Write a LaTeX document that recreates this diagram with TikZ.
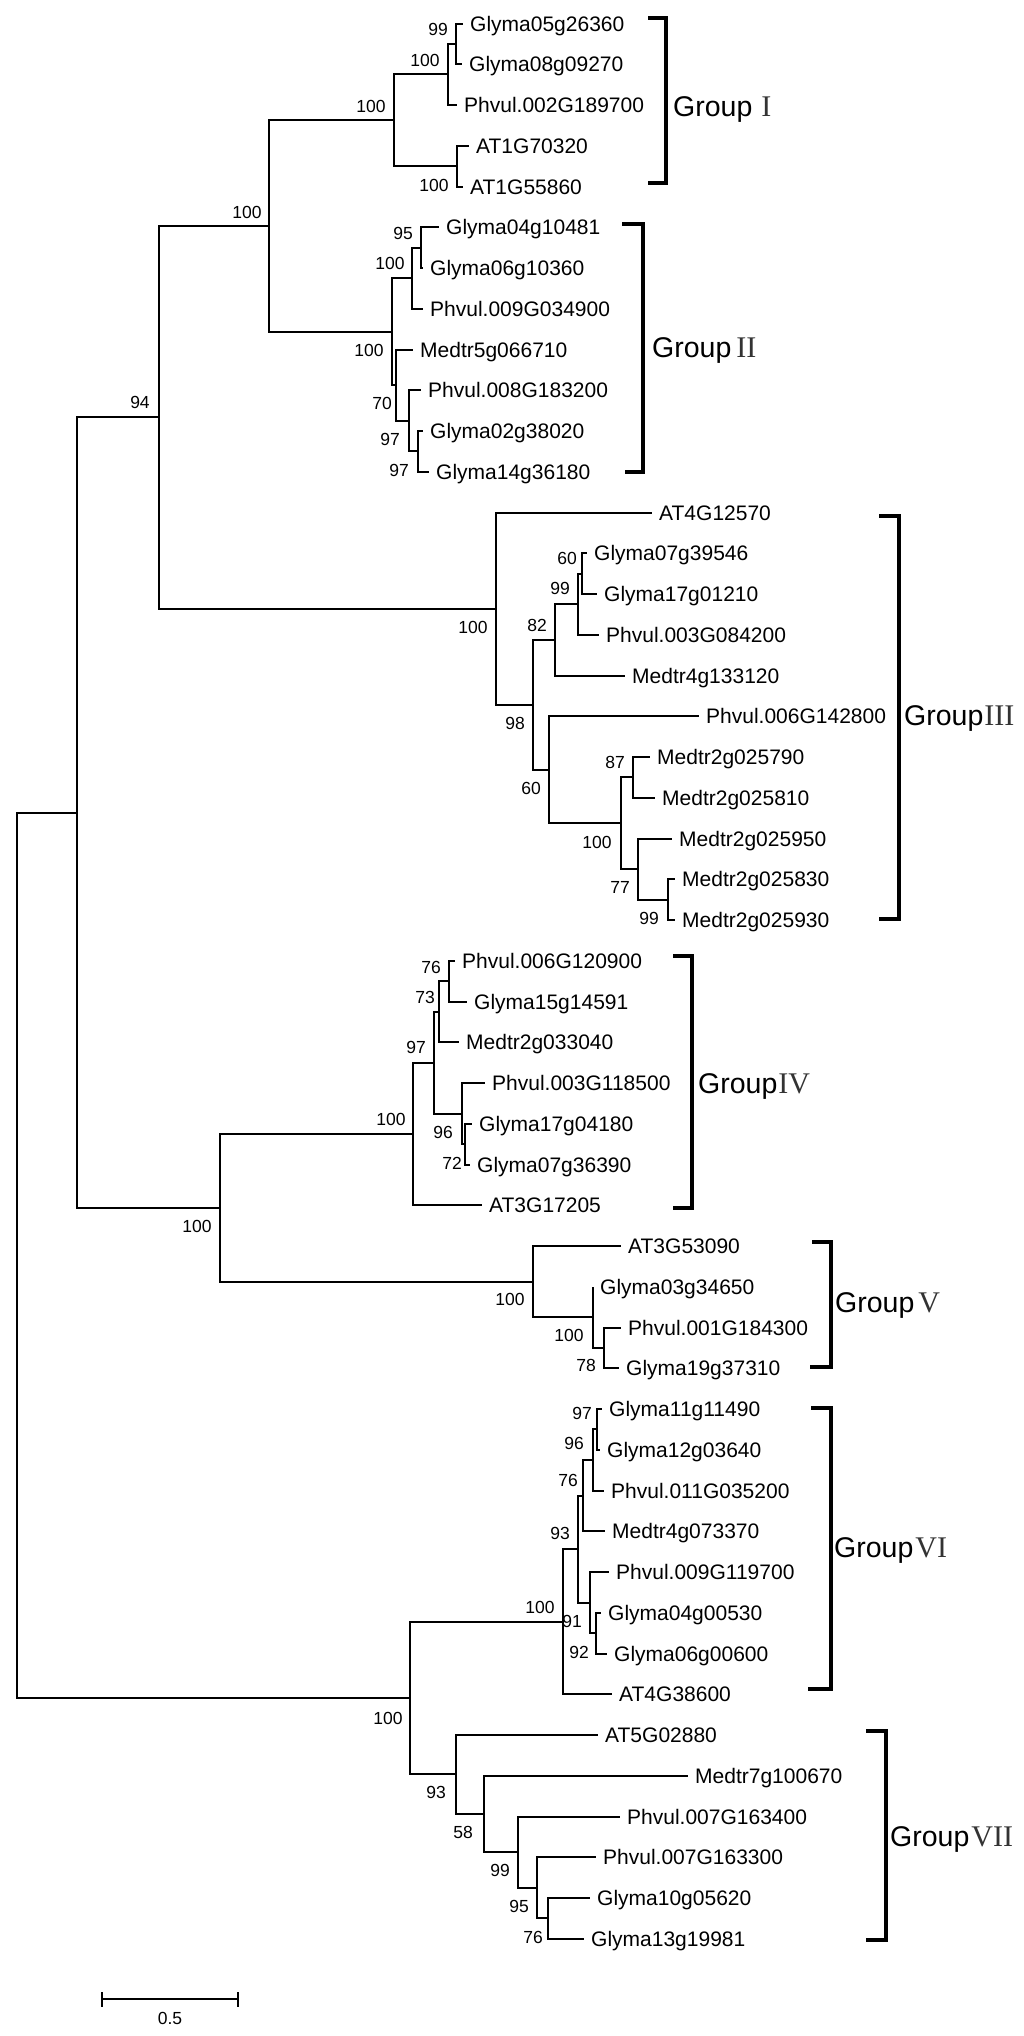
\documentclass[tikz,border=0pt]{standalone}
\usepackage{fontspec}
\setmainfont{Liberation Sans}
\newfontfamily\numfont{Liberation Serif}
\newcommand{\Y}[1]{round(23.5+40.75*(#1))}
\newcommand{\leaf}[4]{\coordinate (#1) at (#3,{\Y{#2}});
  \node[leaflbl] (#1l) at ([xshift=7pt,yshift=-7.5pt]#1) {#4};}
\newcommand{\inode}[3]{\coordinate (#1) at (#3,{\Y{#2}});}
\newcommand{\grplabel}[5]{\node[grp] (#1) at (#2,#3) {\fontsize{28.5}{28.5}\selectfont Group\hspace{#4}{\numfont\fontsize{30}{30}\selectfont\color{black!80}#5}};}
\begin{document}
\begin{tikzpicture}[x=1pt,y=-1pt,
  br/.style={line width=2pt},
  leaflbl/.style={anchor=base west,inner sep=0pt,font=\fontsize{21}{21}\selectfont},
  sup/.style={inner sep=0pt,font=\fontsize{17.5}{17.5}\selectfont},
  grp/.style={anchor=base west,inner sep=0pt},
  brk/.style={line width=3.3pt,line join=miter}]
\useasboundingbox (0,0) rectangle (1024,2036);
% ---------- leaves ----------
\leaf{L0}{0}{463}{Glyma05g26360}
\leaf{L1}{1}{462}{Glyma08g09270}
\leaf{L2}{2}{457}{Phvul.002G189700}
\leaf{L3}{3}{469}{AT1G70320}
\leaf{L4}{4}{463}{AT1G55860}
\leaf{L5}{5}{439}{Glyma04g10481}
\leaf{L6}{6}{423}{Glyma06g10360}
\leaf{L7}{7}{423}{Phvul.009G034900}
\leaf{L8}{8}{413}{Medtr5g066710}
\leaf{L9}{9}{421}{Phvul.008G183200}
\leaf{L10}{10}{423}{Glyma02g38020}
\leaf{L11}{11}{429}{Glyma14g36180}
\leaf{L12}{12}{652}{AT4G12570}
\leaf{L13}{13}{587}{Glyma07g39546}
\leaf{L14}{14}{597}{Glyma17g01210}
\leaf{L15}{15}{599}{Phvul.003G084200}
\leaf{L16}{16}{625}{Medtr4g133120}
\leaf{L17}{17}{699}{Phvul.006G142800}
\leaf{L18}{18}{650}{Medtr2g025790}
\leaf{L19}{19}{655}{Medtr2g025810}
\leaf{L20}{20}{672}{Medtr2g025950}
\leaf{L21}{21}{675}{Medtr2g025830}
\leaf{L22}{22}{675}{Medtr2g025930}
\leaf{L23}{23}{455}{Phvul.006G120900}
\leaf{L24}{24}{467}{Glyma15g14591}
\leaf{L25}{25}{459}{Medtr2g033040}
\leaf{L26}{26}{485}{Phvul.003G118500}
\leaf{L27}{27}{472}{Glyma17g04180}
\leaf{L28}{28}{470}{Glyma07g36390}
\leaf{L29}{29}{482}{AT3G17205}
\leaf{L30}{30}{621}{AT3G53090}
\leaf{L31}{31}{593}{Glyma03g34650}
\leaf{L32}{32}{621}{Phvul.001G184300}
\leaf{L33}{33}{619}{Glyma19g37310}
\leaf{L34}{34}{602}{Glyma11g11490}
\leaf{L35}{35}{600}{Glyma12g03640}
\leaf{L36}{36}{604}{Phvul.011G035200}
\leaf{L37}{37}{605}{Medtr4g073370}
\leaf{L38}{38}{609}{Phvul.009G119700}
\leaf{L39}{39}{601}{Glyma04g00530}
\leaf{L40}{40}{607}{Glyma06g00600}
\leaf{L41}{41}{612}{AT4G38600}
\leaf{L42}{42}{598}{AT5G02880}
\leaf{L43}{43}{688}{Medtr7g100670}
\leaf{L44}{44}{620}{Phvul.007G163400}
\leaf{L45}{45}{596}{Phvul.007G163300}
\leaf{L46}{46}{590}{Glyma10g05620}
\leaf{L47}{47}{584}{Glyma13g19981}
% ---------- internal nodes ----------
\inode{n1c}{0.5}{456}
\inode{n1a}{1.25}{448}
\inode{n1b}{3.5}{457}
\inode{n1}{2.375}{394}
\inode{nB}{5.5}{421}
\inode{nAA}{6.25}{412}
\inode{nD}{10.5}{418}
\inode{nC}{9.75}{409}
\inode{nR}{8.875}{396}
\inode{n2}{7.5625}{392}
\inode{nA}{4.96875}{269}
\inode{n3e}{13.5}{582}
\inode{n3d}{14.25}{578}
\inode{n3c}{15.125}{555}
\inode{n3i}{21.5}{668}
\inode{n3h}{20.75}{638}
\inode{n3g}{18.5}{633}
\inode{n3f}{19.625}{621}
\inode{n3bb}{18.3125}{549}
\inode{n3b}{16.71875}{533}
\inode{n3}{14.359375}{496}
\inode{X94}{9.6640625}{159}
\inode{n4c}{23.5}{449}
\inode{n4b}{24.25}{439}
\inode{n4e}{27.5}{465}
\inode{n4d}{26.75}{462}
\inode{n4a}{25.5}{434}
\inode{n4}{27.25}{413}
\inode{n5b}{32.5}{604}
\inode{n5a}{31.75}{593}
\inode{n5}{30.875}{533}
\inode{n45}{29.0625}{220}
\inode{P}{19.36328}{77}
\inode{n6e}{34.5}{597}
\inode{n6d}{35.25}{593}
\inode{n6c}{36.125}{583}
\inode{n6g}{39.5}{596}
\inode{n6f}{38.75}{590}
\inode{n6b}{37.4375}{578}
\inode{n6}{39.21875}{563}
\inode{n7e}{46.5}{548}
\inode{n7d}{45.75}{537}
\inode{n7c}{44.875}{518}
\inode{n7b}{43.9375}{484}
\inode{n7}{42.96875}{456}
\inode{n67}{41.09375}{410}
\inode{root}{30.2285}{17}
% ---------- branches ----------
\foreach \p/\c in {root/P,root/n67,P/X94,P/n45,X94/nA,X94/n3,nA/n1,nA/n2,
  n1/n1a,n1/n1b,n1a/n1c,n1a/L2,n1c/L0,n1c/L1,n1b/L3,n1b/L4,
  n2/nAA,n2/nR,nAA/nB,nAA/L7,nB/L5,nB/L6,nR/L8,nR/nC,nC/L9,nC/nD,nD/L10,nD/L11,
  n3/L12,n3/n3b,n3b/n3c,n3b/n3bb,n3c/n3d,n3c/L16,n3d/n3e,n3d/L15,n3e/L13,n3e/L14,
  n3bb/L17,n3bb/n3f,n3f/n3g,n3f/n3h,n3g/L18,n3g/L19,n3h/L20,n3h/n3i,n3i/L21,n3i/L22,
  n45/n4,n45/n5,n4/n4a,n4/L29,n4a/n4b,n4a/n4d,n4b/n4c,n4b/L25,n4c/L23,n4c/L24,
  n4d/L26,n4d/n4e,n4e/L27,n4e/L28,n5/L30,n5/n5a,n5a/L31,n5a/n5b,n5b/L32,n5b/L33,
  n67/n6,n67/n7,n6/n6b,n6/L41,n6b/n6c,n6b/n6f,n6c/n6d,n6c/L37,n6d/n6e,n6d/L36,
  n6e/L34,n6e/L35,n6f/L38,n6f/n6g,n6g/L39,n6g/L40,
  n7/L42,n7/n7b,n7b/L43,n7b/n7c,n7c/L44,n7c/n7d,n7d/L45,n7d/n7e,n7e/L46,n7e/L47}
  {\draw[br] (\p) |- (\c);}
% ---------- support values ----------
\foreach \n/\x/\y/\t in {s1/438/29/99,s2/425/60/100,s3/371/106/100,s4/434/185/100,
  s5/247/212/100,s6/403/233/95,s7/390/263/100,s8/369/350/100,s9/382/403/70,
  s10/390/439/97,s11/399/470/97,s12/140/402/94,s13/473/627/100,s14/567/558/60,
  s15/560/588/99,s16/537/625/82,s17/515/723/98,s18/531/788/60,s19/615/762/87,
  s20/597/842/100,s21/620/887/77,s22/649/918/99,s23/431/967/76,s24/425/997/73,
  s25/416/1047/97,s26/391/1119/100,s27/443/1132/96,s28/452/1163/72,s29/197/1226/100,
  s30/510/1299/100,s31/569/1335/100,s32/586/1365/78,s33/582/1413/97,s34/574/1443/96,
  s35/568/1480/76,s36/560/1533/93,s37/540/1607/100,s38/572/1621/91,s39/579/1652/92,
  s40/388/1718/100,s41/436/1792/93,s42/463/1832/58,s43/500/1870/99,s44/519/1906/95,
  s45/533/1937/76}
  {\node[sup] (\n) at (\x,\y) {\t};}
% ---------- group brackets ----------
\coordinate (b1a) at (648,18);  \coordinate (b1b) at (666,18);  \coordinate (b1c) at (666,183);  \coordinate (b1d) at (648,183);
\coordinate (b2a) at (622,224); \coordinate (b2b) at (643,224); \coordinate (b2c) at (643,472);  \coordinate (b2d) at (625,472);
\coordinate (b3a) at (879,516); \coordinate (b3b) at (899,516); \coordinate (b3c) at (899,919);  \coordinate (b3d) at (879,919);
\coordinate (b4a) at (673,956); \coordinate (b4b) at (692,956); \coordinate (b4c) at (692,1208); \coordinate (b4d) at (673,1208);
\coordinate (b5a) at (812,1242);\coordinate (b5b) at (831,1242);\coordinate (b5c) at (831,1367); \coordinate (b5d) at (810,1367);
\coordinate (b6a) at (811,1408);\coordinate (b6b) at (831,1408);\coordinate (b6c) at (831,1689); \coordinate (b6d) at (808,1689);
\coordinate (b7a) at (866,1731);\coordinate (b7b) at (886,1731);\coordinate (b7c) at (886,1940); \coordinate (b7d) at (866,1940);
\foreach \k in {1,...,7} {\draw[brk] (b\k a) -- (b\k b) -- (b\k c) -- (b\k d);}
\grplabel{g1}{673}{117}{9pt}{I}
\grplabel{g2}{652}{357}{5pt}{II}
\grplabel{g3}{904}{725}{1pt}{III}
\grplabel{g4}{698}{1093}{1pt}{IV}
\grplabel{g5}{835}{1312}{4pt}{V}
\grplabel{g6}{834}{1557}{2pt}{VI}
\grplabel{g7}{890}{1846}{2pt}{VII}
% ---------- scale bar ----------
\coordinate (sbl) at (102,1999); \coordinate (sbr) at (238,1999);
\coordinate (sblt) at (102,1992); \coordinate (sblb) at (102,2007);
\coordinate (sbrt) at (238,1992); \coordinate (sbrb) at (238,2007);
\draw[line width=2.5pt] (sbl) -- (sbr);
\draw[line width=2pt] (sblt) -- (sblb);
\draw[line width=2pt] (sbrt) -- (sbrb);
\node[sup] (sblabel) at (170,2018) {0.5};
\end{tikzpicture}
\end{document}
